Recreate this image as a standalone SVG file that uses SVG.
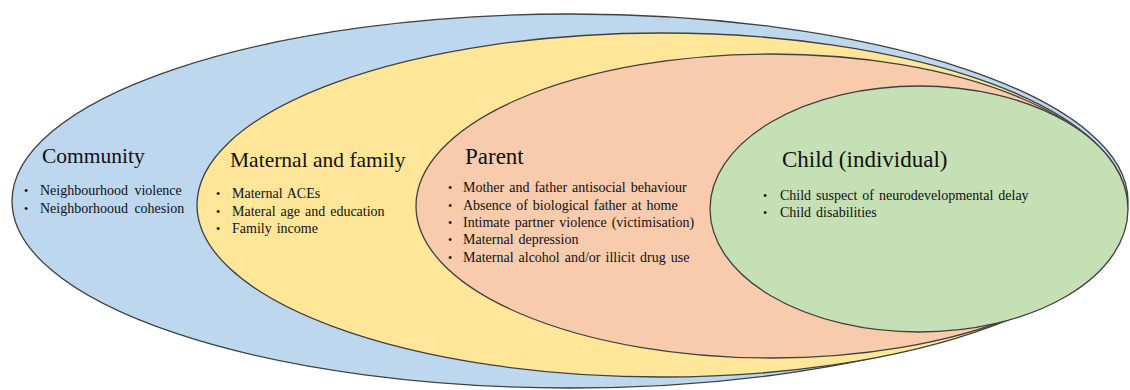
<svg xmlns="http://www.w3.org/2000/svg" width="1130" height="390" viewBox="0 0 1130 390">
<style>
.ring{stroke:#404040;stroke-width:1.3}
.title{font-family:"Liberation Serif","Times New Roman",serif;font-size:21.5px;fill:#111}
.big{font-size:23px}
.item{font-family:"Liberation Serif","Times New Roman",serif;font-size:14px;fill:#111;word-spacing:1.5px}
.bul{font-family:"Liberation Serif","Times New Roman",serif;font-size:12px;fill:#111}
</style>
<rect width="1130" height="390" fill="#fff"/>
<g id="community">
<ellipse class="ring" cx="570" cy="201" rx="558" ry="187" fill="#BDD7EE"/>
<text class="title" x="42" y="163">Community</text>
<text class="bul" x="24" y="195">•</text><text class="item" x="40" y="195" style="word-spacing:3px">Neighbourhood violence</text>
<text class="bul" x="24" y="213">•</text><text class="item" x="40" y="213" style="word-spacing:3px">Neighborhooud cohesion</text>
</g>
<g id="maternal-family">
<ellipse class="ring" cx="662" cy="205" rx="465" ry="172" fill="#FFE699"/>
<text class="title" x="230" y="167">Maternal and family</text>
<text class="bul" x="216" y="198">•</text><text class="item" x="232" y="198">Maternal ACEs</text>
<text class="bul" x="216" y="216">•</text><text class="item" x="232" y="216">Materal age and education</text>
<text class="bul" x="216" y="233">•</text><text class="item" x="232" y="233">Family income</text>
</g>
<g id="parent">
<ellipse class="ring" cx="771" cy="206" rx="355" ry="152" fill="#F8CBAD"/>
<text class="title big" x="465" y="164">Parent</text>
<text class="bul" x="448" y="192">•</text><text class="item" x="463" y="192">Mother and father antisocial behaviour</text>
<text class="bul" x="448" y="210">•</text><text class="item" x="463" y="210">Absence of biological father at home</text>
<text class="bul" x="448" y="227">•</text><text class="item" x="463" y="227">Intimate partner violence (victimisation)</text>
<text class="bul" x="448" y="244">•</text><text class="item" x="463" y="244">Maternal depression</text>
<text class="bul" x="448" y="262">•</text><text class="item" x="463" y="262">Maternal alcohol and/or illicit drug use</text>
</g>
<g id="child">
<ellipse class="ring" cx="919" cy="209" rx="209" ry="123" fill="#C5E0B4"/>
<text class="title big" x="782" y="167">Child (individual)</text>
<text class="bul" x="763" y="200">•</text><text class="item" x="780" y="200">Child suspect of neurodevelopmental delay</text>
<text class="bul" x="763" y="217">•</text><text class="item" x="780" y="217">Child disabilities</text>
</g>
<g id="connectors"></g>
</svg>
